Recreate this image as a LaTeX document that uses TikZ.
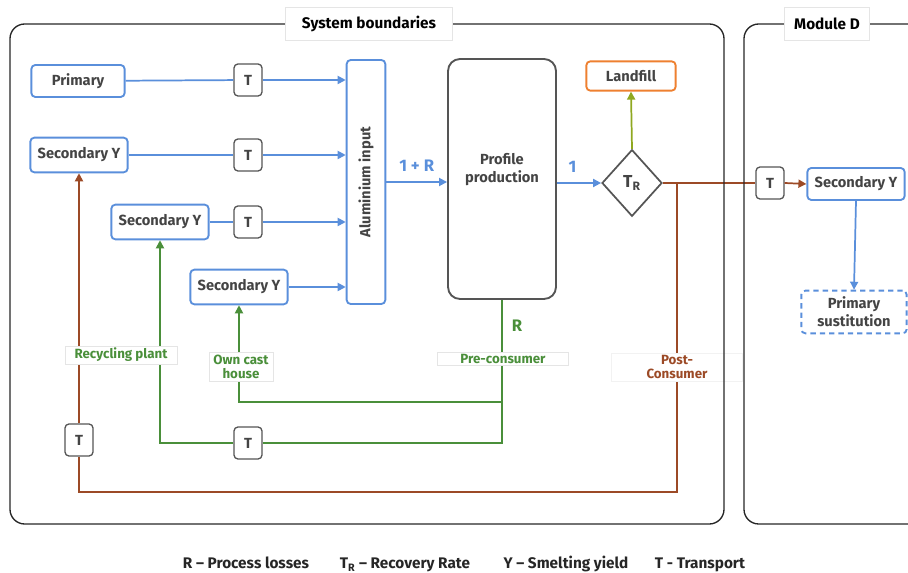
\documentclass[tikz,border=0pt]{standalone}
\usepackage{fontspec}
\setmainfont{Fira Sans}
\usetikzlibrary{positioning,shapes.geometric,arrows.meta}
\definecolor{boxblue}{HTML}{5A8FDB}
\definecolor{flowbrown}{HTML}{9C4A26}
\definecolor{flowgreen}{HTML}{4A8F3A}
\definecolor{landolive}{HTML}{8FA820}
\definecolor{landorange}{HTML}{EE8030}
\definecolor{boxgray}{HTML}{555555}
\definecolor{txtgray}{HTML}{444444}
\begin{document}
\begin{tikzpicture}[x=0.75pt,y=-0.75pt,
    font=\bfseries\fontsize{11}{13.5}\selectfont, text=txtgray,
    box/.style={draw, rounded corners=3pt, line width=1.4pt, align=center, inner sep=2pt},
    bluebox/.style={box, draw=boxblue, minimum width=73pt, minimum height=26pt},
    tbox/.style={box, draw=boxgray, line width=1pt, minimum width=21pt, minimum height=24pt},
    tag/.style={fill=white, draw=gray!20, line width=0.5pt, inner sep=1.5pt,
      font=\bfseries\fontsize{10}{11}\selectfont, align=center},
    blueflow/.style={draw=boxblue, line width=1.3pt},
    brownflow/.style={draw=flowbrown, line width=1.3pt},
    greenflow/.style={draw=flowgreen, line width=1.3pt},
    flowtip/.style={-{Triangle[length=6pt,width=6pt]}}]
  \useasboundingbox (0,0) rectangle (908,573);

  % sources
  \node[bluebox, minimum width=70pt, minimum height=24pt] (primary) at (78,81) {Primary};
  \node[bluebox] (sec1) at (79,155) {Secondary Y};
  \node[bluebox] (sec2) at (160,222) {Secondary Y};
  \node[bluebox] (sec3) at (239,287) {Secondary Y};

  % transport
  \foreach \name/\x/\y in {t1/248/80, t2/248/155, t3/248/222, t4/248/443, t5/79/440, t6/770/183}
    \node[tbox] (\name) at (\x,\y) {T};

  % process
  \node[box, draw=boxblue, minimum width=29pt, minimum height=183pt] (alu) at (366,182)
    {\rotatebox{90}{Aluminium input}};
  \node[box, draw=boxgray, rounded corners=9pt, minimum width=81pt, minimum height=180pt] (prof) at (502,179) {};
  \node[align=center] (proftext) at ([yshift=7pt]prof.center) {Profile\\production};
  \node[diamond, draw=boxgray, line width=1.3pt, minimum width=45pt, minimum height=50pt, inner sep=0pt] (tr) at (632,183)
    {\fontsize{13}{15}\selectfont T\textsubscript{R}};
  \node[box, draw=landorange, minimum width=67pt, minimum height=22pt] (landfill) at (631,76) {Landfill};

  % module D
  \node[bluebox, minimum height=24pt] (secD) at (856,184) {Secondary Y};
  \node[box, draw=boxblue, dash pattern=on 4pt off 3pt, minimum width=79pt, minimum height=32pt] (subst) at (854,312)
    {Primary\\sustitution};

  % flows
  \draw[blueflow] (primary) -- (t1);
  \draw[blueflow, flowtip] (t1) -- (t1 -| alu.west);
  \draw[blueflow] (sec1) -- (t2);
  \draw[blueflow, flowtip] (t2) -- (t2 -| alu.west);
  \draw[blueflow] (sec2) -- (t3);
  \draw[blueflow, flowtip] (t3) -- (t3 -| alu.west);
  \draw[blueflow, flowtip] (sec3) -- (sec3 -| alu.west);
  \draw[blueflow, flowtip] (alu.east) -- (alu.east -| prof.west)
    node[midway, above=4pt, text=boxblue, font=\bfseries\fontsize{12.5}{14}\selectfont] {1 + R};
  \draw[blueflow, flowtip] (prof.east |- tr.west) -- (tr.west)
    node[pos=0.35, above=4pt, text=boxblue, font=\bfseries\fontsize{12.5}{14}\selectfont] {1};
  \draw[draw=landolive, line width=1.3pt, flowtip] (tr.north) -- (landfill.south);
  \draw[brownflow] (tr.east) -- (t6.west);
  \draw[brownflow, flowtip] (t6.east) -- (secD.west);
  \draw[blueflow, flowtip] (secD.south) -- (subst.north);

  % post-consumer loop
  \coordinate (pcsplit) at (677,183);
  \coordinate (pcturn) at (677,492);
  \draw[brownflow] (pcsplit) -- (pcturn) -| (t5.south);
  \draw[brownflow, flowtip] (t5.north) -- (sec1.south);

  % pre-consumer loops
  \coordinate (preturn) at (prof.south |- 0,402);
  \draw[greenflow] (prof.south) -- (prof.south |- t4.east) -- (t4.east);
  \draw[greenflow, flowtip] (t4.west) -| (sec2.south);
  \draw[greenflow, flowtip] (preturn) -| (sec3.south);

  % labels
  \node[text=flowgreen, font=\bfseries\fontsize{12.5}{14}\selectfont] (rloss) at (517,326) {R};
  \node[tag, text=flowgreen, minimum width=98pt] (pre) at (503,359) {Pre-consumer};
  \node[tag, text=flowgreen, minimum width=48pt] (owncast) at (241,367) {Own cast\\house};
  \node[tag, text=flowgreen, minimum width=84pt] (recyc) at (121,355) {Recycling plant};
  \node[tag, text=flowbrown, draw=gray!10, minimum width=98pt] (post) at (677,367) {Post-\\Consumer};

  % boundaries
  \draw[line width=1pt, draw=black!85, rounded corners=11pt] (10,24) rectangle (724,524);
  \draw[line width=1pt, draw=black!85, rounded corners=11pt] (744,24) rectangle (940,524);
  \node[fill=white, draw=gray!20, line width=0.5pt, text=black, minimum width=125pt, minimum height=25pt,
    font=\bfseries\fontsize{11.5}{13}\selectfont] (sysb) at (369,24) {System boundaries};
  \node[fill=white, draw=gray!20, line width=0.5pt, text=black, minimum width=64pt, minimum height=25pt,
    font=\bfseries\fontsize{11.5}{13}\selectfont] (modd) at (827,24) {Module D};

  % legend
  \foreach \name/\x/\txt in {legr/246/{R -- Process losses}, legtr/405/{T\textsubscript{R} -- Recovery Rate},
      legy/566/{Y -- Smelting yield}, legt/700/{T - Transport}}
    \node[anchor=base, text=black!85, font=\bfseries\fontsize{11.5}{13}\selectfont] (\name) at (\x,569) {\txt};
\end{tikzpicture}
\end{document}
